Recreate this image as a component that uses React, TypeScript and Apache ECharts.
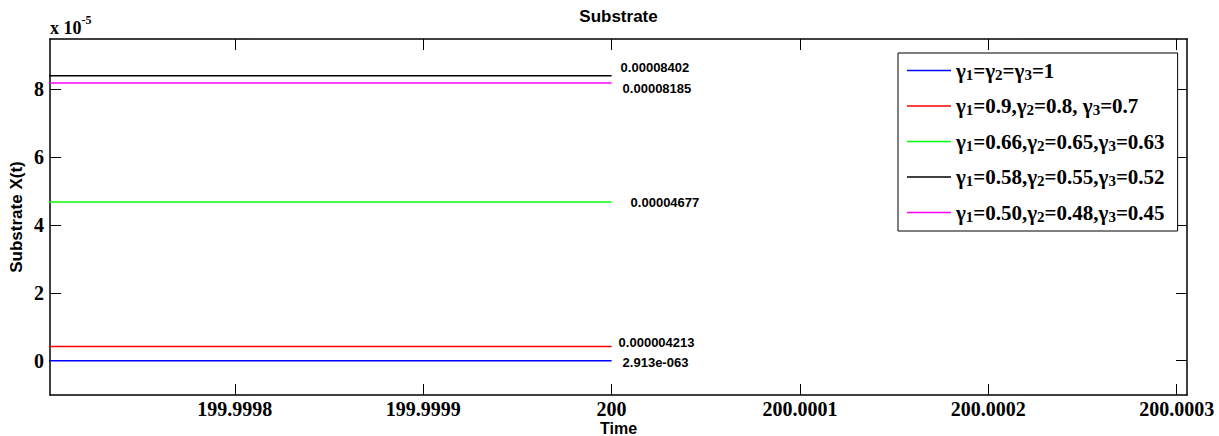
import React, { useEffect, useRef } from "react";
import * as echarts from "echarts";

// ---- data ----
const seriesNames = [
  "γ1=γ2=γ3=1",
  "γ1=0.9,γ2=0.8, γ3=0.7",
  "γ1=0.66,γ2=0.65,γ3=0.63",
  "γ1=0.58,γ2=0.55,γ3=0.52",
  "γ1=0.50,γ2=0.48,γ3=0.45",
];
const seriesColors = ["#0000ff", "#ff0000", "#00ff00", "#000000", "#ff00ff"];
const timePoints = [199.9997, 200];
const substrateValues = [2.913e-63, 4.213e-6, 4.677e-5, 8.402e-5, 8.185e-5];
const endLabelTexts = ["2.913e-063", "0.000004213", "0.00004677", "0.00008402", "0.00008185"];
const xTicks = [199.9998, 199.9999, 200, 200.0001, 200.0002, 200.0003];
const yTicks = [0, 2e-5, 4e-5, 6e-5, 8e-5];
const xRange = [199.99970186, 200.00030547];
const yRange = [-1.01e-5, 9.485e-5];

// label offsets (style, not data)
const endLabelOffsets = [
  [11, 2],
  [7, -4],
  [19, 0],
  [9, -8],
  [11, 5],
];

const serif = "'Liberation Serif', 'Times New Roman', serif";
const sans = "'Liberation Sans', Arial, sans-serif";

function toRich(name: string): string {
  return name
    .split(/(γ\d)/)
    .filter((p) => p.length > 0)
    .map((p) => (/^γ\d$/.test(p) ? `{g|γ}{s|${p[1]}}` : `{g|${p}}`))
    .join("");
}

export default function App() {
  const ref = useRef<HTMLDivElement>(null);

  useEffect(() => {
    if (!ref.current) return;
    const chart = echarts.init(ref.current, undefined, { renderer: "svg" });

    const series = seriesNames.map((name, i) => ({
      name,
      type: "line",
      xAxisIndex: 0,
      yAxisIndex: 0,
      symbol: "none",
      clip: true,
      color: seriesColors[i],
      lineStyle: { color: seriesColors[i], width: 1.5 },
      data: timePoints.map((t) => [t, substrateValues[i]]),
      endLabel: {
        show: true,
        formatter: () => endLabelTexts[i],
        distance: 0,
        offset: endLabelOffsets[i],
        fontFamily: sans,
        fontWeight: "bold",
        fontSize: 13,
        color: "#000",
      },
    }));

    const axisLineStyle = { show: true, lineStyle: { color: "#000", width: 1.5 } };
    const tickStyle = { show: true, inside: true, length: 11, lineStyle: { color: "#000", width: 1 } };

    chart.setOption({
      animation: false,
      backgroundColor: "#fff",
      title: {
        text: "Substrate",
        left: 618.5,
        top: 8,
        padding: 0,
        textAlign: "center",
        textStyle: { fontFamily: sans, fontWeight: "bold", fontSize: 17, color: "#000" },
      },
      grid: { left: 50, right: 32, top: 39, bottom: 41, containLabel: false, outerBoundsMode: "none" },
      xAxis: [
        {
          type: "value",
          position: "bottom",
          min: xRange[0],
          max: xRange[1],
          name: "Time",
          nameLocation: "middle",
          nameMoveOverlap: false,
          nameGap: 26,
          nameTextStyle: { fontFamily: sans, fontWeight: "bold", fontSize: 16, lineHeight: 14, color: "#000" },
          axisLine: { ...axisLineStyle, onZero: false },
          axisTick: { ...tickStyle, customValues: xTicks },
          axisLabel: {
            customValues: xTicks,
            margin: 4,
            fontFamily: serif,
            fontWeight: "bold",
            fontSize: 20,
            color: "#000",
            formatter: (v: number) => String(Number(v.toFixed(4))),
          },
          splitLine: { show: false },
        },
        {
          type: "value",
          position: "top",
          min: xRange[0],
          max: xRange[1],
          axisLine: { ...axisLineStyle, onZero: false },
          axisTick: { ...tickStyle, customValues: xTicks },
          axisLabel: { show: false, customValues: xTicks },
          splitLine: { show: false },
        },
      ],
      yAxis: [
        {
          type: "value",
          position: "left",
          min: yRange[0],
          max: yRange[1],
          name: "Substrate X(t)",
          nameLocation: "middle",
          nameMoveOverlap: false,
          nameGap: 25,
          nameTextStyle: { fontFamily: sans, fontWeight: "bold", fontSize: 17, color: "#000" },
          axisLine: { ...axisLineStyle, onZero: false },
          axisTick: { ...tickStyle, customValues: yTicks },
          axisLabel: {
            customValues: yTicks,
            margin: 6,
            fontFamily: serif,
            fontWeight: "bold",
            fontSize: 20,
            color: "#000",
            formatter: (v: number) => String(Math.round(v * 1e5)),
          },
          splitLine: { show: false },
        },
        {
          type: "value",
          position: "right",
          min: yRange[0],
          max: yRange[1],
          axisLine: { ...axisLineStyle, onZero: false },
          axisTick: { ...tickStyle, customValues: yTicks },
          axisLabel: { show: false, customValues: yTicks },
          splitLine: { show: false },
        },
      ],
      legend: {
        orient: "vertical",
        left: 898,
        top: 53,
        padding: [6, 13, 7, 9],
        itemGap: 12.5,
        itemWidth: 44,
        itemHeight: 1.5,
        icon: "rect",
        backgroundColor: "#fff",
        borderColor: "#000",
        borderWidth: 1,
        borderRadius: 0,
        selectedMode: false,
        data: seriesNames,
        formatter: toRich,
        textStyle: {
          color: "#000",
          rich: {
            g: { fontFamily: serif, fontWeight: "bold", fontSize: 21, lineHeight: 28, color: "#000" },
            s: {
              fontFamily: serif,
              fontWeight: "bold",
              fontSize: 15,
              lineHeight: 28,
              padding: [8, 0, 0, 0],
              color: "#000",
            },
          },
        },
      },
      graphic: [
        {
          type: "text",
          x: 50,
          y: 27.5,
          style: {
            text: "{a|x 10}{b|-5}",
            align: "left",
            verticalAlign: "middle",
            rich: {
              a: { fontFamily: serif, fontWeight: "bold", fontSize: 18, lineHeight: 26, fill: "#000" },
              b: {
                fontFamily: serif,
                fontWeight: "bold",
                fontSize: 12,
                lineHeight: 26,
                padding: [0, 0, 16, 0],
                fill: "#000",
              },
            },
          },
        },
      ],
      series,
    });

    return () => chart.dispose();
  }, []);

  return (
    <div
      ref={ref}
      style={{ position: "absolute", left: 0, top: 0, width: 1219, height: 436, background: "#fff" }}
    />
  );
}
